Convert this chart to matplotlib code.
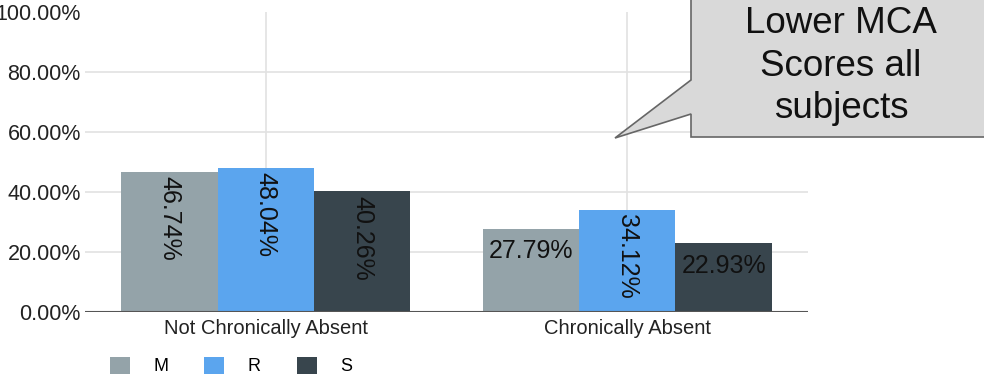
import matplotlib
matplotlib.use('Agg')
import matplotlib.pyplot as plt
from matplotlib.patches import Polygon, Patch
import numpy as np

plt.rcParams['font.family'] = ['Liberation Sans', 'DejaVu Sans']

categories = ['Not Chronically Absent', 'Chronically Absent']
subjects = ['M', 'R', 'S']
values = {
    'M': [0.4674, 0.2779],
    'R': [0.4804, 0.3412],
    'S': [0.4026, 0.2293],
}
colors = {'M': '#94a3a9', 'R': '#5ba5ee', 'S': '#38454d'}
y_ticks = [0.0, 0.2, 0.4, 0.6, 0.8, 1.0]
callout_text = 'Lower MCA\nScores all\nsubjects'

W, H = 984, 379
fig = plt.figure(figsize=(W / 100, H / 100), dpi=100)
ax = fig.add_axes([85 / W, 1 - 312 / H, (808 - 85) / W, 300 / H])

x = np.arange(len(categories))
bw = 0.8 / len(subjects)
for i, s in enumerate(subjects):
    xs = x + (i - 1) * bw
    ax.bar(xs, values[s], width=bw, color=colors[s], edgecolor='none', zorder=2)
    for xi, v in zip(xs, values[s]):
        label = f'{v * 100:.2f}%'
        # tall bars get the label turned, short ones keep it flat
        if v > 0.3:
            ax.text(xi, v - 0.015, label, rotation=-90, ha='center', va='top',
                    fontsize=18, color='#111111', zorder=3)
        else:
            ax.text(xi, v - 0.035, label, ha='center', va='top',
                    fontsize=18, color='#111111', zorder=3)

ax.set_xlim(-0.5, 1.5)
ax.set_ylim(0, 1.0)
ax.set_xticks(x)
ax.set_xticklabels(categories, fontsize=14.5, color='#222222')
ax.set_yticks(y_ticks)
ax.set_yticklabels([f'{t * 100:.2f}%' for t in y_ticks], fontsize=15.5, color='#222222')
ax.tick_params(length=0, pad=3)
ax.tick_params(axis='x', pad=5)

for t in y_ticks[1:-1]:
    ax.axhline(t, color='#e2e2e2', lw=1.2, zorder=0)
for xi in x:
    ax.axvline(xi, color='#e2e2e2', lw=1.2, zorder=0)
ax.axhline(0, color='#555555', lw=1.5, zorder=4)

for sp in ax.spines.values():
    sp.set_visible(False)

handles = [Patch(facecolor=colors[s], edgecolor='none') for s in subjects]
fig.legend(handles, subjects, loc='center left', bbox_to_anchor=(110 / W, 1 - 366 / H),
           ncol=3, frameon=False, fontsize=13, handlelength=1.1, handleheight=1.1,
           handletextpad=1.3, columnspacing=2.0, borderpad=0, borderaxespad=0)

# callout bubble
pts = [(691, -5), (995, -5), (995, 137), (691, 137), (691, 114), (615, 138), (691, 80)]
poly = Polygon([(px / W, 1 - py / H) for px, py in pts], closed=True,
               transform=fig.transFigure, facecolor='#d9d9d9', edgecolor='#666666',
               lw=1.2, zorder=5)
fig.patches.append(poly)
fig.text(841 / W, 1 - 66 / H, callout_text, ha='center', va='center', fontsize=26.5,
         color='#111111', linespacing=1.27, zorder=6)

fig.savefig('out.png', dpi=100)
